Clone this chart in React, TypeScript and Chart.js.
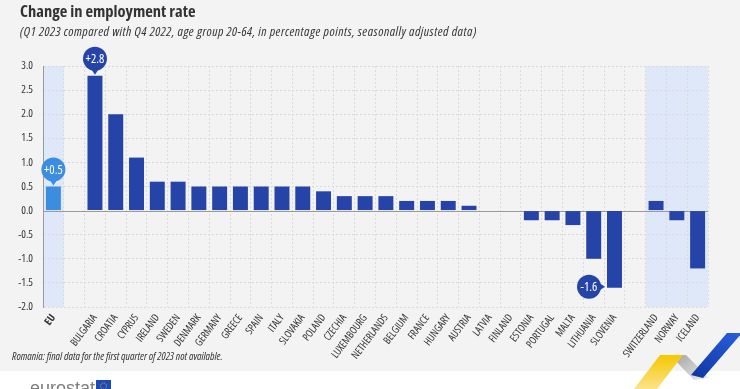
import React, { useEffect, useRef } from 'react';
import { Chart, registerables } from 'chart.js';

Chart.register(...registerables);

const categories = ['EU', '', 'BULGARIA', 'CROATIA', 'CYPRUS', 'IRELAND', 'SWEDEN', 'DENMARK', 'GERMANY', 'GREECE', 'SPAIN', 'ITALY', 'SLOVAKIA', 'POLAND', 'CZECHIA', 'LUXEMBOURG', 'NETHERLANDS', 'BELGIUM', 'FRANCE', 'HUNGARY', 'AUSTRIA', 'LATVIA', 'FINLAND', 'ESTONIA', 'PORTUGAL', 'MALTA', 'LITHUANIA', 'SLOVENIA', '', 'SWITZERLAND', 'NORWAY', 'ICELAND'];
const values = [0.5, null, 2.8, 2.0, 1.1, 0.6, 0.6, 0.5, 0.5, 0.5, 0.5, 0.5, 0.5, 0.4, 0.3, 0.3, 0.3, 0.2, 0.2, 0.2, 0.1, 0, 0, -0.2, -0.2, -0.3, -1.0, -1.6, null, 0.2, -0.2, -1.2];
const highlightedBands = [[0, 0], [29, 31]];
const bubbleIndices = [0, 2, 27];
const yTicks = { min: -2, max: 3, step: 0.5 };

const FAMILY = "'Open Sans', sans-serif";
const DARK = '#2644a7';
const LIGHT = '#3b8de0';
const BAND = '#dfe8f8';
const TEXT = '#333333';

function drawBubble(ctx: CanvasRenderingContext2D, cx: number, cy: number, r: number, color: string, text: string, dir: 'down' | 'right') {
  ctx.save();
  ctx.fillStyle = color;
  ctx.beginPath();
  ctx.arc(cx, cy, r, 0, Math.PI * 2);
  ctx.fill();
  ctx.beginPath();
  if (dir === 'down') {
    ctx.moveTo(cx - 4, cy + r - 2);
    ctx.lineTo(cx + 4, cy + r - 2);
    ctx.lineTo(cx, cy + r + 4);
  } else {
    ctx.moveTo(cx + r - 2, cy - 4);
    ctx.lineTo(cx + r - 2, cy + 4);
    ctx.lineTo(cx + r + 4, cy);
  }
  ctx.closePath();
  ctx.fill();
  ctx.fillStyle = '#ffffff';
  ctx.font = `condensed 12.5px ${FAMILY}`;
  ctx.textAlign = 'center';
  ctx.textBaseline = 'middle';
  ctx.fillText(text, cx, cy + 0.5);
  ctx.restore();
}

const decorPlugin = {
  id: 'decor',
  beforeDraw(chart: any) {
    const { ctx, chartArea, scales } = chart;
    const x = scales.x;
    const w = x.getPixelForValue(1) - x.getPixelForValue(0);
    ctx.save();
    ctx.fillStyle = BAND;
    for (const [a, b] of highlightedBands) {
      const left = x.getPixelForValue(a) - w / 2;
      const right = x.getPixelForValue(b) + w / 2;
      ctx.fillRect(left, chartArea.top, right - left, chartArea.bottom - chartArea.top);
    }
    ctx.restore();
  },
  beforeDatasetsDraw(chart: any) {
    const { ctx, chartArea, scales } = chart;
    const y0 = Math.round(scales.y.getPixelForValue(0)) + 0.5;
    ctx.save();
    ctx.strokeStyle = '#9a9a9a';
    ctx.lineWidth = 1;
    ctx.beginPath();
    ctx.moveTo(chartArea.left, y0);
    ctx.lineTo(chartArea.right, y0);
    ctx.stroke();
    ctx.restore();
  },
  afterDatasetsDraw(chart: any) {
    const { ctx } = chart;
    const meta = chart.getDatasetMeta(0);
    for (const i of bubbleIndices) {
      const el = meta.data[i];
      const v = values[i] as number;
      const txt = (v > 0 ? '+' : '') + v.toFixed(1);
      const color = i === 0 ? LIGHT : DARK;
      if (v >= 0) {
        drawBubble(ctx, el.x, el.y - 17, 12, color, txt, 'down');
      } else {
        drawBubble(ctx, el.x - el.width / 2 - 18, el.y - 1, 12, color, txt, 'right');
      }
    }
  },
};

export default function App() {
  const ref = useRef<HTMLCanvasElement | null>(null);
  useEffect(() => {
    document.body.style.margin = '0';
    if (!ref.current) return;
    const chart = new Chart(ref.current, {
      type: 'bar',
      data: {
        labels: categories,
        datasets: [
          {
            data: values as any,
            backgroundColor: values.map((_, i) => (i === 0 ? LIGHT : DARK)),
            borderWidth: 0,
            categoryPercentage: 1,
            barPercentage: 0.72,
          },
        ],
      },
      options: {
        responsive: false,
        animation: false,
        layout: { padding: { top: 66, right: 32, left: 0, bottom: 0 } },
        plugins: { legend: { display: false }, tooltip: { enabled: false }, title: { display: false } },
        scales: {
          x: {
            afterFit: (s: any) => { s.height = 82; },
            grid: { color: '#dadada', lineWidth: 1, drawTicks: false, offset: true },
            border: { display: false, dash: [2, 2] },
            ticks: {
              autoSkip: false,
              minRotation: 53,
              maxRotation: 53,
              padding: 5,
              color: TEXT,
              font: (c: any) => ({ family: FAMILY, size: 10.5, weight: c.index === 0 ? 'bold semi-condensed' : 'semi-condensed' }),
            },
          },
          y: {
            min: yTicks.min,
            max: yTicks.max,
            afterFit: (s: any) => { s.width = 43; },
            grid: {
              color: (c: any) => (c.tick && c.tick.value === 0 ? 'rgba(0,0,0,0)' : '#dadada'),
              lineWidth: 1,
              drawTicks: false,
            },
            border: { display: true, color: '#9a9a9a', width: 1, dash: [2, 2] },
            ticks: {
              stepSize: yTicks.step,
              padding: 10,
              color: TEXT,
              font: { family: FAMILY, size: 11, weight: 'condensed' },
              callback: (v: any) => Number(v).toFixed(1),
            },
          },
        },
      },
      plugins: [decorPlugin],
    });
    return () => chart.destroy();
  }, []);

  return (
    <div style={{ position: 'absolute', left: 0, top: 0, width: 740, height: 389, overflow: 'hidden', background: '#ffffff' }}>
      <div style={{ position: 'absolute', left: 0, top: 0, width: 740, height: 371, background: '#f3f3f3' }} />
      <canvas ref={ref} width={740} height={389} style={{ position: 'absolute', left: 0, top: 0 }} />
      <div style={{ position: 'absolute', left: 20, top: 1, fontFamily: FAMILY, fontStretch: '75%', fontWeight: 'bold', fontSize: 16.5, lineHeight: '20px', color: TEXT, whiteSpace: 'nowrap' }}>
        Change in employment rate
      </div>
      <div style={{ position: 'absolute', left: 20, top: 23, fontFamily: FAMILY, fontStretch: '75%', fontStyle: 'italic', fontSize: 13, letterSpacing: '0.5px', lineHeight: '16px', color: TEXT, whiteSpace: 'nowrap' }}>
        (Q1 2023 compared with Q4 2022, age group 20-64, in percentage points, seasonally adjusted data)
      </div>
      <div style={{ position: 'absolute', left: 12, top: 349, fontFamily: FAMILY, fontStretch: '75%', fontStyle: 'italic', fontSize: 10.8, lineHeight: '14px', color: TEXT, whiteSpace: 'nowrap' }}>
        Romania: final data for the first quarter of 2023 not available.
      </div>
      <div style={{ position: 'absolute', left: 30, top: 378, fontFamily: "'Liberation Sans', Arial, sans-serif", fontSize: 18, lineHeight: '20px', color: '#7d7d7d', whiteSpace: 'nowrap' }}>
        eurostat
      </div>
      <svg width={740} height={389} style={{ position: 'absolute', left: 0, top: 0 }}>
        <rect x={96} y={380} width={15} height={10} fill="#1f49b6" />
        <circle cx={103.5} cy={386} r={3} fill="none" stroke="#f3d000" strokeWidth={0.8} strokeDasharray="1 1" />
        <defs>
          <linearGradient id="gy" x1="0" y1="0" x2="0" y2="1">
            <stop offset="0" stopColor="#f5c800" />
            <stop offset="1" stopColor="#fbe38a" />
          </linearGradient>
          <linearGradient id="gg" x1="0" y1="0" x2="1" y2="1">
            <stop offset="0" stopColor="#a0a0a0" />
            <stop offset="1" stopColor="#ededed" />
          </linearGradient>
          <linearGradient id="gb" x1="0" y1="1" x2="1" y2="0">
            <stop offset="0" stopColor="#0e36a0" />
            <stop offset="1" stopColor="#2a5fdc" />
          </linearGradient>
        </defs>
        <polygon points="670,355 686,355 709,378 694,380" fill="url(#gg)" />
        <polygon points="660,355 683,355 657,389 634,389" fill="url(#gy)" />
        <polygon points="727,333 742,333 703,378 691,375" fill="url(#gb)" />
      </svg>
    </div>
  );
}
